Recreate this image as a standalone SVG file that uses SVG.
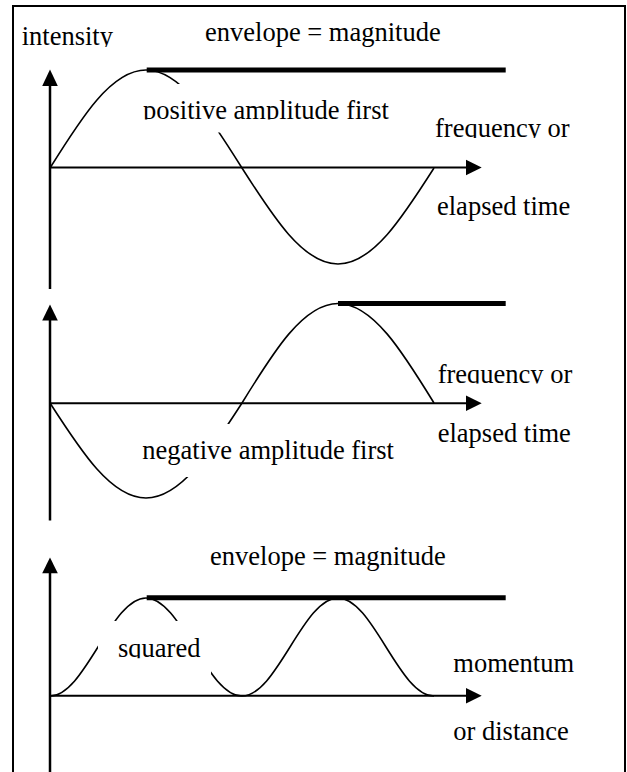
<svg xmlns="http://www.w3.org/2000/svg" width="627" height="772" viewBox="0 0 627 772">
<style>
  .t { font-family: "Liberation Serif", "Times New Roman", serif; font-size: 26.5px; fill: #000; }
  .axis { stroke: #000; stroke-width: 2.5; fill: none; }
  .haxis { stroke: #000; stroke-width: 2; fill: none; }
  .env { stroke: #000; stroke-width: 5; fill: none; }
  .wave { stroke: #000; stroke-width: 1.6; fill: none; }
  .head { fill: #000; }
  .mask { fill: #fff; }
</style>
<defs>
  <clipPath id="cIntensity"><rect x="0" y="0" width="200" height="47"/></clipPath>
  <clipPath id="cPositive"><rect x="100" y="80" width="350" height="39.5"/></clipPath>
  <clipPath id="cFreq1"><rect x="420" y="100" width="200" height="38"/></clipPath>
  <clipPath id="cFreq2"><rect x="420" y="340" width="200" height="43.5"/></clipPath>
  <clipPath id="cSquared"><rect x="100" y="620" width="120" height="38.3"/></clipPath>
</defs>
<rect x="13" y="6" width="612" height="800" fill="#fff" stroke="#000" stroke-width="2"/>

<g id="panel1">
  <g id="axes1">
    <line class="axis" x1="50" y1="84" x2="50" y2="289"/>
    <polygon class="head" points="50,69.5 42.2,86 57.8,86"/>
    <line class="haxis" x1="50" y1="167.5" x2="468" y2="167.5"/>
    <polygon class="head" points="481.7,167.5 466,159.7 466,175.3"/>
  </g>
  <path class="wave" d="M50,168 C81.34,117.75 111.26,70 146,70 C180.74,70 210.66,117.75 242,168 C273.34,217.23 303.26,264 338,264 C372.74,264 402.66,217.23 434,168"/>
  <line class="env" x1="146.7" y1="70" x2="505.7" y2="70"/>
  <rect class="mask" x="125" y="84" width="310" height="48.5"/>
  <text class="t" x="21.7" y="45" clip-path="url(#cIntensity)">intensity</text>
  <text class="t" x="205" y="40.5">envelope = magnitude</text>
  <text class="t" x="143" y="118.5" clip-path="url(#cPositive)">positive amplitude first</text>
  <text class="t" x="435" y="137.3" clip-path="url(#cFreq1)">frequency or</text>
  <text class="t" x="437" y="215">elapsed time</text>
</g>

<g id="panel2">
  <g id="axes2">
    <line class="axis" x1="50" y1="319" x2="50" y2="520.5"/>
    <polygon class="head" points="50,304.5 42.2,320.5 57.8,320.5"/>
    <line class="haxis" x1="50" y1="403.3" x2="468" y2="403.3"/>
    <polygon class="head" points="481.7,403.3 466,395.5 466,411.1"/>
  </g>
  <path class="wave" d="M50,403 C81.34,451.72 111.26,498 146,498 C180.74,498 210.66,451.72 242,403 C273.34,351.98 303.26,303.5 338,303.5 C372.74,303.5 402.66,351.98 434,403"/>
  <line class="env" x1="338" y1="303.5" x2="505.7" y2="303.5"/>
  <rect class="mask" x="125" y="424" width="290" height="53"/>
  <text class="t" x="142.3" y="459.3">negative amplitude first</text>
  <text class="t" x="437.7" y="383" clip-path="url(#cFreq2)">frequency or</text>
  <text class="t" x="437.7" y="441.7">elapsed time</text>
</g>

<g id="panel3">
  <g id="axes3">
    <line class="axis" x1="50" y1="572" x2="50" y2="780"/>
    <polygon class="head" points="50,557.5 42.2,573.3 57.8,573.3"/>
    <line class="haxis" x1="50" y1="695.7" x2="468" y2="695.7"/>
    <polygon class="head" points="481.7,695.7 466,687.9 466,703.5"/>
  </g>
  <path class="wave" d="M50,696 C67.37,696 82.33,672.13 98,647 C113.67,621.87 128.63,598 146,598 C163.37,598 178.330,621.87 194,647 C209.67,672.13 224.63,696 242,696 C259.37,696 274.33,672.13 290,647 C305.67,621.87 320.63,598 338,598 C355.37,598 370.33,621.87 386,647 C401.67,672.13 416.63,696 434,696"/>
  <line class="env" x1="146.7" y1="597.7" x2="505.7" y2="597.7"/>
  <rect class="mask" x="98" y="621" width="113" height="54"/>
  <text class="t" x="210" y="565">envelope = magnitude</text>
  <text class="t" x="118" y="656.7" clip-path="url(#cSquared)">squared</text>
  <text class="t" x="453.3" y="671.7">momentum</text>
  <text class="t" x="453.3" y="740">or distance</text>
</g>
</svg>
